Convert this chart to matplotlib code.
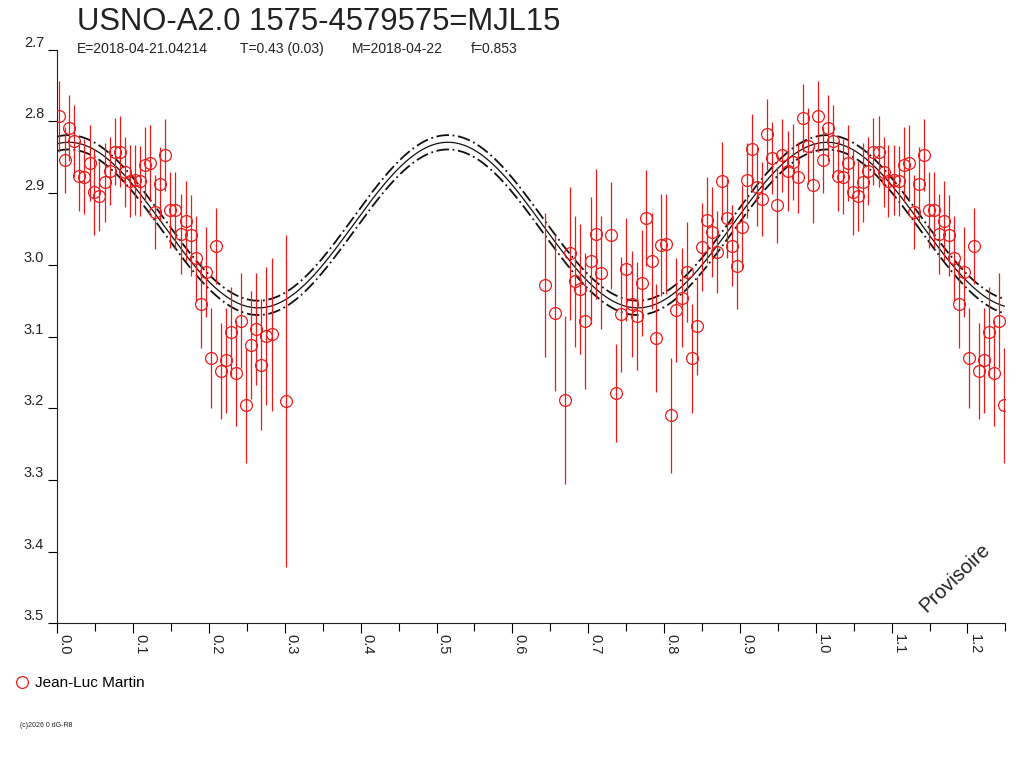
import matplotlib
matplotlib.use("Agg")
import matplotlib.pyplot as plt
import numpy as np
from matplotlib.lines import Line2D

plt.rcParams['font.family'] = ['Liberation Sans', 'DejaVu Sans']

phase = [0.0026, 0.0098, 0.0158, 0.0224, 0.0290, 0.0356, 0.0427, 0.0488, 0.0554, 0.0629,
         0.0691, 0.0757, 0.0827, 0.0893, 0.0958, 0.1028, 0.1094, 0.1160, 0.1226, 0.1292,
         0.1358, 0.1424, 0.1490, 0.1556, 0.1627, 0.1693, 0.1759, 0.1825, 0.1891, 0.1957,
         0.2022, 0.2092, 0.2154, 0.2224, 0.2290, 0.2356, 0.2422, 0.2488, 0.2554, 0.2620,
         0.2686, 0.2751, 0.2827, 0.3015,
         0.6434, 0.6566, 0.6697, 0.6763, 0.6829, 0.6895, 0.6961, 0.7032, 0.7102, 0.7168,
         0.7300, 0.7366, 0.7432, 0.7502, 0.7573, 0.7639, 0.7705, 0.7765, 0.7837, 0.7897,
         0.7963, 0.8029, 0.8095, 0.8161, 0.8232, 0.8298, 0.8368, 0.8430, 0.8496, 0.8562,
         0.8627, 0.8694, 0.8760, 0.8826, 0.8891, 0.8961, 0.9027, 0.9093, 0.9159, 0.9225,
         0.9295, 0.9357, 0.9423, 0.9492, 0.9558, 0.9630, 0.9695, 0.9761, 0.9827, 0.9893,
         0.9959]
mag = [2.793, 2.854, 2.809, 2.827, 2.876, 2.877, 2.858, 2.899, 2.904, 2.885,
       2.869, 2.842, 2.842, 2.870, 2.883, 2.882, 2.883, 2.860, 2.858, 2.926,
       2.887, 2.847, 2.924, 2.924, 2.957, 2.939, 2.959, 2.991, 3.055, 3.010,
       3.130, 2.973, 3.148, 3.133, 3.094, 3.151, 3.078, 3.196, 3.112, 3.090,
       3.139, 3.099, 3.097, 3.190,
       3.028, 3.067, 3.189, 2.984, 3.023, 3.034, 3.078, 2.994, 2.957, 3.011,
       2.959, 3.179, 3.069, 3.006, 3.055, 3.071, 3.025, 2.935, 2.994, 3.102,
       2.972, 2.971, 3.210, 3.063, 3.046, 3.010, 3.130, 3.085, 2.975, 2.938,
       2.954, 2.982, 2.883, 2.934, 2.973, 3.001, 2.947, 2.882, 2.839, 2.891,
       2.908, 2.818, 2.851, 2.917, 2.847, 2.869, 2.857, 2.878, 2.795, 2.834,
       2.888]
err = [0.050, 0.046, 0.046, 0.050, 0.049, 0.052, 0.053, 0.060, 0.049, 0.055,
       0.048, 0.047, 0.049, 0.049, 0.050, 0.049, 0.049, 0.053, 0.053, 0.052,
       0.052, 0.050, 0.053, 0.053, 0.056, 0.056, 0.056, 0.059, 0.061, 0.063,
       0.070, 0.053, 0.067, 0.073, 0.063, 0.074, 0.066, 0.080, 0.075, 0.078,
       0.092, 0.096, 0.107, 0.232,
       0.100, 0.109, 0.117, 0.093, 0.091, 0.091, 0.095, 0.089, 0.091, 0.079,
       0.074, 0.068, 0.080, 0.072, 0.074, 0.075, 0.074, 0.067, 0.067, 0.076,
       0.071, 0.070, 0.080, 0.072, 0.069, 0.070, 0.076, 0.068, 0.061, 0.060,
       0.063, 0.057, 0.055, 0.057, 0.057, 0.060, 0.058, 0.052, 0.050, 0.055,
       0.052, 0.050, 0.050, 0.053, 0.051, 0.056, 0.053, 0.050, 0.047, 0.053,
       0.053]

# fitted double wave
fit_mean = 2.9445
fit_amp = 0.1155
fit_phase0 = 0.015
fit_sigma = 0.010

observer = "Jean-Luc Martin"
title = "USNO-A2.0 1575-4579575=MJL15"
info = ["E=2018-04-21.04214", "T=0.43 (0.03)", "M=2018-04-22", "f=0.853"]

phase = np.array(phase)
mag = np.array(mag)
err = np.array(err)
rep = phase <= 0.25
ph_all = np.concatenate([phase, phase[rep] + 1])
mag_all = np.concatenate([mag, mag[rep]])
err_all = np.concatenate([err, err[rep]])

fig = plt.figure(figsize=(10.24, 7.68), dpi=100)
ax = fig.add_axes([0.05596, 0.18841, 0.92588, 0.74674])

xx = np.linspace(0, 1.25, 600)
curve = fit_mean - fit_amp * np.cos(4 * np.pi * (xx - fit_phase0))
ax.plot(xx, curve, color='#111111', lw=0.9)
ax.plot(xx, curve - fit_sigma, color='#111111', lw=1.3, ls=(0, (7, 2, 1, 2)))
ax.plot(xx, curve + fit_sigma, color='#111111', lw=1.3, ls=(0, (7, 2, 1, 2)))

ax.errorbar(ph_all, mag_all, yerr=err_all, fmt='o', ms=8.5, mfc='none', mec='#f01818',
            mew=0.9, ecolor='#f01818', elinewidth=0.9, capsize=0, zorder=3)

ax.set_xlim(0, 1.25)
ax.set_ylim(3.5, 2.7)
ax.set_xticks(np.arange(0, 1.21, 0.1))
ax.set_xticks(np.arange(0.05, 1.26, 0.1), minor=True)
ax.set_xticklabels([f"{v:.1f}" for v in np.arange(0, 1.21, 0.1)], rotation=270,
                   ha='left', va='top', fontsize=10.5, color='#222222')
ax.set_yticks(np.arange(2.7, 3.51, 0.1))
ax.set_yticklabels([f"{v:.1f}" for v in np.arange(2.7, 3.51, 0.1)], va='bottom',
                   fontsize=10.5, color='#222222')
ax.tick_params(axis='x', which='major', length=7, width=0.8, pad=1)
ax.tick_params(axis='x', which='minor', length=6, width=0.8)
ax.tick_params(axis='y', length=6.5, width=0.8, pad=3)
for s in ['top', 'right']:
    ax.spines[s].set_visible(False)
for s in ['left', 'bottom']:
    ax.spines[s].set_linewidth(0.8)
    ax.spines[s].set_color('#222222')

ax.text(1.1835, 3.436, "Provisoire", fontsize=14.5, rotation=44, ha='center',
        va='center', color='#222222')

fig.text(77 / 1024, 1 - 30 / 768, title, fontsize=22.3, va='baseline', color='#222222')
for x, s in zip([77, 240, 352, 471], info):
    fig.text(x / 1024, 1 - 53 / 768, s, fontsize=10, va='baseline', color='#222222')

h = Line2D([], [], marker='o', ls='none', mfc='none', mec='#f01818', ms=8.5, mew=0.9)
fig.legend([h], [observer], loc='center left', bbox_to_anchor=(14 / 1024, 1 - 683 / 768),
           frameon=False, handlelength=1, handletextpad=0.4, borderpad=0,
           borderaxespad=0, fontsize=11)
fig.text(20 / 1024, 1 - 727 / 768, "(c)2026 0 dG-R8", fontsize=5, color='#222222')

fig.savefig("out.png", dpi=100)
